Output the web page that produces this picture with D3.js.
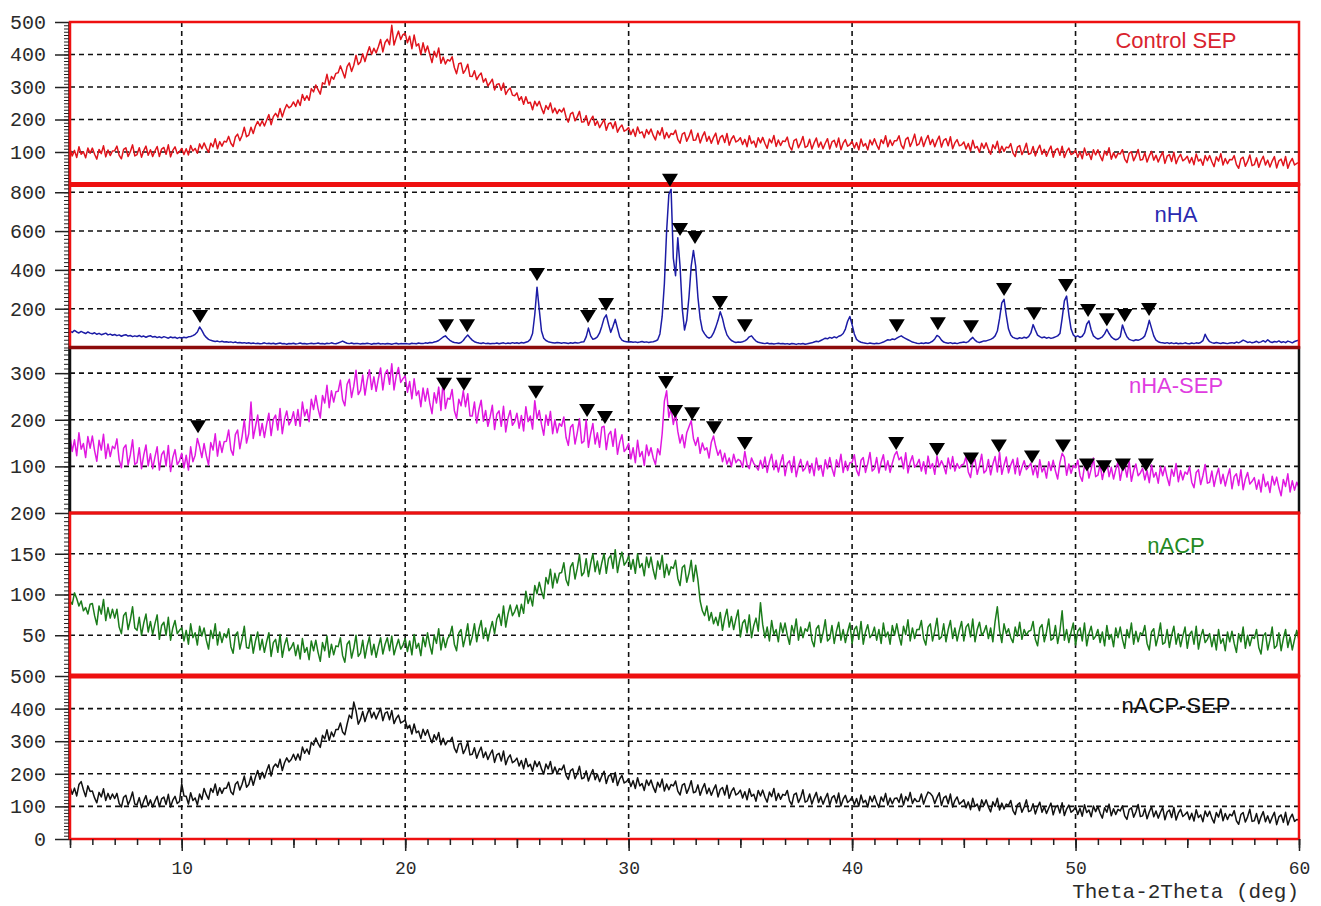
<!DOCTYPE html>
<html>
<head>
<meta charset="utf-8">
<script src="https://cdn.jsdelivr.net/npm/d3@7/dist/d3.min.js"></script>
<style>
  body { margin: 0; background: #fff; }
  svg { display: block; }
</style>
</head>
<body>
<svg id="chart"></svg>
<script>
// 2theta runs from 5 to 60 deg, one value every 0.1 deg (one row = one degree)
const thetaStart = 5, thetaStep = 0.1;

const ctrlSep = [
109,88,105,83,116,93,101,82,112,96,
112,93,78,108,95,119,85,106,89,103,
104,118,90,79,108,113,86,101,122,88,
92,113,84,104,118,90,107,86,103,117,
86,109,114,93,122,85,105,116,95,101,
111,92,110,91,120,103,111,96,125,110,
128,112,99,127,116,141,110,132,118,133,
131,148,127,117,146,155,135,151,176,147,
152,176,157,180,194,180,196,180,198,215,
184,209,219,207,234,208,230,246,236,241,
254,240,260,243,277,259,273,259,295,285,
306,292,278,313,309,339,306,332,324,342,
344,365,347,328,363,374,348,367,398,369,
377,402,378,403,424,401,419,405,424,446,
408,437,447,430,490,429,452,472,446,461,
465,436,456,418,460,426,433,400,436,407,
426,400,375,410,392,420,373,392,371,384,
380,393,360,341,372,374,342,353,370,333,
332,350,323,335,343,315,326,303,313,324,
291,308,310,290,312,277,290,297,275,273,
282,259,270,247,270,250,253,230,256,242,
256,235,218,243,231,251,221,235,218,231,
223,235,207,192,217,222,196,208,225,192,
193,212,182,199,210,182,195,175,187,200,
167,187,190,172,193,161,175,183,164,168,
175,154,170,148,177,158,162,144,169,155,
171,151,137,165,152,175,141,160,144,157,
154,167,139,127,155,160,133,148,168,136,
137,158,128,148,162,133,148,127,145,158,
124,145,151,129,157,121,140,150,131,135,
144,123,139,116,150,126,134,115,144,128,
145,126,111,140,128,151,117,137,120,134,
132,146,117,106,135,140,113,128,148,114,
118,139,109,128,143,115,131,110,127,141,
109,131,136,115,143,107,127,138,118,123,
133,112,129,107,140,118,126,107,137,122,
141,122,108,138,126,150,116,137,120,135,
135,150,121,110,139,145,117,133,155,120,
125,146,117,137,151,123,139,116,135,149,
115,136,141,119,147,110,128,138,119,122,
131,109,126,103,136,112,117,99,127,111,
128,108,93,122,110,133,98,118,102,115,
113,126,97,86,115,120,92,107,127,93,
96,117,88,107,121,93,108,87,104,118,
84,106,111,90,118,83,101,112,92,96,
105,84,101,79,112,90,96,77,107,91,
107,88,73,103,90,113,78,98,82,96,
94,107,78,67,96,101,73,88,108,75,
77,98,69,88,102,75,90,69,86,100,
65,87,92,71,99,64,82,93,73,78,
87,66,83,61,94,72,78,59,89,73,
89,70,55,85,72,95,60,80,64,77,
76,89,61,50,79,84,56,71,91,58,
61,82,53,73,87,60,75,54,72,86,
51,73,78,58,86,50,69,80,60,65,
68];

const nHA = [
84,78,88,80,75,83,77,72,80,74,
71,76,68,73,66,70,74,65,69,63,
67,61,65,58,63,66,59,62,56,60,
57,62,55,59,53,58,61,54,57,51,
55,50,56,52,48,54,50,53,47,52,
49,53,50,55,57,61,68,80,106,88,
66,52,42,37,34,31,33,29,32,28,
30,27,29,25,28,24,26,23,25,22,
24,21,23,20,22,19,21,24,20,22,
19,22,18,21,23,19,20,17,21,19,
22,18,20,23,19,21,18,20,22,19,
20,23,19,21,18,22,20,24,21,19,
23,28,33,27,22,20,23,19,21,20,
18,21,19,22,20,17,21,19,22,18,
20,18,21,19,17,20,22,18,20,19,
21,19,18,22,20,19,23,21,20,24,
22,26,24,28,31,36,45,54,60,48,
37,30,26,24,22,26,36,52,64,50,
38,30,26,23,21,24,20,22,19,21,
20,23,19,22,24,20,23,21,25,22,
24,21,26,23,27,31,42,72,170,311,
195,85,48,36,30,27,25,23,26,24,
22,25,23,21,24,22,26,23,25,28,
30,55,100,60,42,46,55,75,110,150,
168,120,78,110,145,100,55,38,32,30,
28,30,27,29,26,28,31,27,29,26,
28,30,33,40,70,160,330,600,790,815,
460,370,565,420,200,90,140,260,420,500,
420,260,150,90,70,55,48,55,75,105,
140,184,150,100,65,48,36,30,26,28,
27,30,34,42,55,60,45,33,27,24,
22,20,23,19,21,18,20,22,19,21,
18,20,17,21,19,16,20,18,21,17,
19,22,24,28,32,30,36,42,48,45,
52,48,55,50,58,62,72,95,135,160,
118,70,42,32,27,24,22,20,23,21,
19,22,20,24,28,34,40,38,44,41,
48,55,60,52,46,40,34,28,25,22,
20,23,21,24,22,26,32,44,62,55,
38,28,24,22,25,21,23,20,24,26,
28,25,30,42,52,38,29,26,30,34,
34,38,42,48,60,85,150,230,248,165,
95,65,52,48,45,50,47,53,49,56,
75,118,90,64,56,50,54,48,52,47,
50,55,60,72,150,240,265,170,95,65,
55,60,52,58,75,120,137,90,60,50,
44,48,55,70,94,72,55,45,40,44,
55,116,82,55,42,38,35,40,37,42,
48,60,95,140,100,60,38,30,26,24,
22,25,21,24,20,23,19,22,20,24,
21,19,23,20,24,22,26,35,68,45,
30,25,22,26,23,21,24,22,20,23,
25,22,28,24,30,38,33,26,29,24,
27,32,25,29,35,28,40,30,26,31,
28,34,26,30,25,33,29,24,31,35,
38];

const nHASep = [
164,132,157,123,172,137,149,119,164,139,
165,134,111,156,135,169,117,148,121,143,
138,159,114,97,139,146,103,125,157,104,
108,140,95,124,146,101,127,95,120,142,
92,125,133,101,145,89,119,136,104,112,
128,97,124,92,142,110,124,160,142,119,
149,123,103,151,135,170,122,154,130,153,
154,178,136,124,168,178,138,164,200,150,
170,238,160,185,210,166,192,162,190,214,
166,201,210,178,224,170,201,219,189,198,
217,188,222,186,238,208,222,196,244,222,
252,224,204,252,236,274,226,262,238,260,
261,285,243,230,276,287,248,272,306,254,
263,296,253,284,307,265,292,261,288,311,
264,299,307,276,320,264,294,312,280,288,
294,259,282,245,288,252,262,228,268,240,
267,236,213,258,236,270,220,285,224,246,
244,265,220,203,244,230,262,228,256,208,
208,238,193,222,242,197,220,186,206,231,
179,212,219,186,229,174,203,220,188,196,
214,182,209,176,228,196,208,180,241,202,
220,190,167,210,188,218,170,200,172,192,
186,206,162,145,184,190,148,172,202,150,
154,200,141,170,192,148,172,141,184,186,
136,168,175,143,180,126,152,168,132,138,
149,116,140,108,156,121,132,102,146,123,
140,118,104,138,125,170,240,262,205,225,
190,215,175,150,168,140,172,185,198,160,
145,162,128,150,135,140,118,152,165,142,
124,135,110,128,105,118,100,126,108,115,
112,98,132,104,95,118,106,100,92,113,
96,120,87,110,126,93,113,88,108,125,
80,106,112,87,121,78,101,115,90,96,
111,86,106,80,118,92,102,79,114,95,
119,96,79,114,99,126,87,111,91,108,
109,125,92,80,113,119,87,106,130,90,
95,119,86,109,125,92,112,87,107,124,
132,114,120,95,129,86,109,123,98,104,
115,90,110,84,122,96,106,83,122,99,
112,101,84,118,95,121,90,106,96,103,
105,121,88,76,109,115,83,102,126,86,
91,115,82,105,121,88,130,83,103,120,
86,103,115,84,118,81,98,112,93,99,
107,82,102,76,114,88,98,75,110,91,
113,90,73,108,128,120,81,105,85,102,
97,113,80,68,101,107,75,94,118,78,
81,105,72,95,111,78,98,73,93,110,
70,96,102,77,111,68,91,105,80,86,
96,71,91,65,103,77,87,64,99,80,
99,76,59,94,79,106,67,91,71,88,
83,99,66,54,87,93,61,80,104,64,
66,90,57,80,96,63,83,58,78,95,
52,78,84,59,93,50,73,87,62,68,
76,51,71,45,83,57,67,44,79,60,
77,54,37,72,57,84,45,69,49,66,
55];

const nACP = [
92,88,102,95,86,92,80,84,76,88,
89,74,63,86,76,94,68,84,71,82,
71,82,60,52,74,78,57,69,85,59,
56,72,50,65,76,54,67,51,64,75,
45,62,66,50,72,44,59,68,52,56,
59,43,56,39,64,47,53,38,61,49,
59,44,33,56,46,64,38,54,41,52,
47,58,36,28,50,54,33,45,61,35,
34,50,28,43,54,32,45,29,42,53,
24,41,45,29,51,23,38,47,31,35,
41,25,38,21,46,29,35,20,43,31,
44,29,18,41,31,49,23,39,26,37,
36,47,25,17,39,43,22,34,50,24,
28,44,22,37,48,26,39,23,36,47,
27,39,47,31,49,26,36,45,33,38,
46,30,43,26,51,34,40,25,48,36,
53,38,27,50,40,58,32,48,35,46,
50,61,39,31,53,57,36,48,64,38,
48,64,42,57,68,46,59,43,56,67,
52,70,76,62,86,60,76,87,74,79,
87,73,88,77,104,89,98,86,111,101,
115,104,95,121,113,131,108,126,114,126,
127,139,118,111,134,139,119,132,149,123,
127,144,122,138,150,128,141,125,139,150,
126,144,148,132,155,127,142,152,136,140,
147,131,143,126,150,133,138,123,146,133,
146,130,119,141,131,148,121,137,124,134,
132,142,120,111,133,136,115,126,142,116,
136,118,92,80,74,86,68,78,64,72,
62,78,56,71,82,60,73,57,70,81,
48,65,69,53,75,47,62,71,55,90,
63,47,60,43,68,51,57,42,65,53,
65,50,39,62,52,70,44,60,47,58,
55,66,44,36,58,62,41,53,69,43,
46,62,40,55,66,44,57,41,54,65,
40,57,61,45,67,39,54,63,47,51,
60,44,57,40,65,48,54,39,62,50,
64,49,38,61,51,69,43,59,46,57,
57,68,46,38,60,64,43,55,71,45,
48,64,42,57,68,46,59,43,56,67,
43,60,64,48,70,42,57,66,50,54,
62,46,59,42,67,85,56,41,64,52,
58,47,41,60,49,66,45,57,50,55,
56,67,45,37,59,63,42,54,70,44,
46,62,40,55,80,44,57,41,54,65,
38,55,59,43,65,37,52,61,45,49,
57,41,54,37,62,45,51,36,59,47,
60,45,34,57,47,65,39,55,42,53,
51,62,40,32,54,58,37,49,65,39,
41,57,35,50,61,39,52,36,49,60,
34,51,55,39,61,33,48,57,41,45,
52,36,49,32,57,40,46,31,54,42,
55,40,29,52,42,60,34,50,37,48,
46,57,35,27,49,53,32,44,60,34,
37,53,31,46,57,35,48,32,45,56,
44];

const nACPSep = [
160,137,156,132,167,176,151,130,163,146,
147,126,111,143,129,154,118,140,122,138,
124,140,109,98,128,134,105,121,144,107,
105,127,96,117,133,102,120,98,116,131,
99,123,129,106,137,98,119,131,109,115,
170,132,131,107,142,118,126,105,138,121,
155,136,122,155,143,169,134,157,140,156,
156,174,145,136,168,176,150,168,193,159,
167,193,165,190,210,183,205,187,209,228,
193,221,230,220,245,210,234,249,236,244,
260,242,261,242,282,263,276,260,297,288,
310,293,281,318,307,335,302,328,314,336,
336,356,328,320,352,380,370,420,393,352,
367,391,360,383,400,372,389,368,385,401,
363,386,390,366,394,354,370,380,356,360,
365,339,349,322,353,326,331,308,337,318,
335,312,295,320,304,327,289,309,289,301,
299,312,279,265,291,294,262,276,297,258,
260,280,248,267,282,250,267,244,260,273,
235,258,263,239,270,228,248,258,234,239,
248,224,241,215,247,222,229,208,239,222,
237,215,199,230,215,238,201,221,201,216,
212,227,195,183,210,215,185,200,223,185,
188,209,178,198,213,182,199,176,193,208,
170,193,198,174,204,164,184,195,172,176,
185,161,179,155,188,163,170,149,181,164,
181,159,143,174,159,184,147,169,151,167,
163,178,147,135,165,170,140,156,179,142,
145,166,134,155,170,139,156,134,152,166,
129,152,158,135,165,125,146,157,135,140,
150,126,145,120,154,131,137,116,149,132,
150,128,113,144,130,155,118,140,122,137,
134,149,117,105,136,141,112,127,151,113,
117,138,107,127,143,112,130,107,125,140,
104,127,133,110,141,101,122,134,112,118,
128,105,124,100,135,111,119,98,131,114,
133,112,97,129,115,140,104,126,108,124,
126,112,138,104,130,117,143,109,124,115,
116,138,107,128,144,140,131,109,127,142,
103,126,132,108,138,98,118,129,107,113,
120,96,114,90,125,100,107,87,120,103,
120,98,83,114,100,125,89,110,92,107,
103,118,87,75,105,111,82,98,120,84,
87,108,77,97,113,82,99,78,95,110,
74,97,103,80,111,72,92,104,82,88,
98,75,94,70,105,81,89,68,101,84,
100,79,64,96,82,107,71,93,75,91,
86,102,71,60,90,96,67,83,106,69,
71,93,62,83,99,68,86,64,82,97,
59,83,89,66,97,58,79,91,69,75,
83,60,79,55,90,66,74,53,86,69,
85,64,49,81,67,92,56,78,60,76,
71,87,56,45,75,81,52,68,91,54,
56,78,47,68,84,53,71,49,67,82,
44,68,74,51,82,43,64,76,54,60,
58];

// peak markers: [2theta, intensity at the tip of the triangle]
const nHAPeaks = [[10.82,126],[21.83,79],[22.77,79],[25.9,343],[28.18,126],[28.99,188],
  [31.85,828],[32.3,575],[32.97,534],[34.09,198],[35.2,79],[42.0,79],[43.84,89],[45.32,74],
  [46.8,265],[48.14,141],[49.57,286],[50.56,157],[51.4,110],[52.2,131],[53.29,162]];
const nHASepPeaks = [[10.73,171],[21.74,262],[22.63,262],[25.85,245],[28.14,206],[28.94,191],
  [31.67,266],[32.08,204],[32.84,199],[33.82,169],[35.2,135],[41.97,135],[43.8,122],[45.32,102],
  [46.57,130],[48.05,106],[49.44,130],[50.51,89],[51.27,85],[52.12,89],[53.15,89]];

const sampleNames = ["Control SEP", "nHA", "nHA-SEP", "nACP", "nACP-SEP"];
const yMax = [500, 840, 355, 200, 500];
const yTicks = [[100,200,300,400,500],[200,400,600,800],[100,200,300],[50,100,150,200],[0,100,200,300,400,500]];
const yMinorStep = [10, 20, 10, 5, 10];
const xTicks = [5,10,15,20,25,30,35,40,45,50,55,60];
const xLabels = [10,20,30,40,50,60];
const xTitle = "Theta-2Theta (deg)";

const series = [ctrlSep, nHA, nHASep, nACP, nACPSep];
const peaks = [null, nHAPeaks, nHASepPeaks, null, null];

// styles
const lineColors = ["#e0141c", "#1c1ca6", "#e018e0", "#1b7c1b", "#111111"];
const labelColors = ["#d9232e", "#2a2ab0", "#e03ce0", "#248a24", "#111111"];
const labelY = [48, 222, 393, 553, 713];
const borderColors = ["#ee1010", "#ee1010", "#111111", "#ee1010", "#ee1010"];

const W = 1321, H = 906;
const left = 70, right = 1299;
const edges = [22, 184.5, 347.5, 513, 676, 839];
const monoFont = "'Liberation Mono', 'DejaVu Sans Mono', monospace";

const svg = d3.select("#chart").attr("width", W).attr("height", H)
  .style("font-family", monoFont);

const x = d3.scaleLinear().domain([5, 60]).range([left, right]);

// vertical dashed grid through all panels
svg.append("g").selectAll("line")
  .data(xLabels.filter(d => d < 60))
  .join("line")
    .attr("x1", d => x(d)).attr("x2", d => x(d))
    .attr("y1", edges[0]).attr("y2", edges[5])
    .attr("stroke", "#111").attr("stroke-width", 1.6)
    .attr("stroke-dasharray", "5,4");

// left axis spine
svg.append("line")
  .attr("x1", left - 1).attr("x2", left - 1)
  .attr("y1", edges[0]).attr("y2", edges[5])
  .attr("stroke", "#111").attr("stroke-width", 1.5);

const line = d3.line()
  .x((d, i) => x(thetaStart + i * thetaStep));

const panels = series.map((vals, k) => {
  const top = edges[k], bottom = edges[k + 1];
  const y = d3.scaleLinear().domain([0, yMax[k]]).range([bottom, top]);
  const g = svg.append("g");

  // horizontal dashed grid
  g.selectAll("line.grid")
    .data(yTicks[k].filter(t => t > 0 && t < yMax[k]))
    .join("line")
      .attr("class", "grid")
      .attr("x1", left).attr("x2", right)
      .attr("y1", d => y(d)).attr("y2", d => y(d))
      .attr("stroke", "#111").attr("stroke-width", 1.6)
      .attr("stroke-dasharray", "5,4");

  // minor + major ticks
  const minor = d3.range(0, yMax[k] + 0.001, yMinorStep[k]);
  g.append("g")
    .attr("transform", `translate(${left - 1},0)`)
    .call(d3.axisLeft(y).tickValues(minor).tickSize(5).tickFormat(""))
    .call(a => a.select(".domain").remove())
    .call(a => a.selectAll("line").attr("stroke", "#222"));
  g.append("g")
    .attr("transform", `translate(${left - 1},0)`)
    .call(d3.axisLeft(y).tickValues(yTicks[k]).tickSize(14).tickPadding(9))
    .call(a => a.select(".domain").remove())
    .call(a => a.selectAll("line").attr("stroke", "#222").attr("stroke-width", 1.5))
    .call(a => a.selectAll("text")
      .attr("font-family", monoFont).attr("font-size", 20).attr("fill", "#2a2a2a"));

  // pattern
  g.append("path")
    .datum(vals)
    .attr("d", line.y(d => y(d)))
    .attr("fill", "none")
    .attr("stroke", lineColors[k])
    .attr("stroke-width", 1.5)
    .attr("stroke-linejoin", "round");

  return { y, top, bottom };
});

// panel frames
[2, 0, 1, 3, 4].forEach(k => {
  svg.append("rect")
    .attr("x", left).attr("y", edges[k])
    .attr("width", right - left).attr("height", edges[k + 1] - edges[k])
    .attr("fill", "none")
    .attr("stroke", borderColors[k])
    .attr("stroke-width", 2.5);
});
// joins between panels
const joins = [[edges[1], 5, "#ee1010"], [edges[2], 3.5, "#8c0b0b"], [edges[3], 3, "#ee1010"], [edges[4], 5, "#ee1010"]];
svg.append("g").selectAll("line")
  .data(joins)
  .join("line")
    .attr("x1", left - 1).attr("x2", right + 1)
    .attr("y1", d => d[0]).attr("y2", d => d[0])
    .attr("stroke", d => d[2]).attr("stroke-width", d => d[1]);

// peak triangles
panels.forEach((p, k) => {
  if (!peaks[k]) return;
  svg.append("g").selectAll("path")
    .data(peaks[k])
    .join("path")
      .attr("transform", d => `translate(${x(d[0])},${p.y(d[1])})`)
      .attr("d", "M-8,-13L8,-13L0,0Z")
      .attr("fill", "#000");
});

// sample labels
svg.append("g").selectAll("text")
  .data(sampleNames)
  .join("text")
    .attr("x", 1176)
    .attr("y", (d, i) => labelY[i])
    .attr("text-anchor", "middle")
    .attr("font-family", "'Liberation Sans', Arial, sans-serif")
    .attr("font-size", 22)
    .attr("fill", (d, i) => labelColors[i])
    .text(d => d);

// x axis
const xAxisG = svg.append("g").attr("transform", `translate(0,${edges[5]})`);
xAxisG.append("g")
  .call(d3.axisBottom(x).tickValues(d3.range(5, 60.001, 1)).tickSize(6).tickFormat(""))
  .call(a => a.select(".domain").remove());
xAxisG.append("g")
  .call(d3.axisBottom(x).tickValues(xTicks).tickSize(9).tickFormat(""))
  .call(a => a.select(".domain").remove());
xAxisG.append("g")
  .call(d3.axisBottom(x).tickValues(xLabels).tickSize(12).tickPadding(10))
  .call(a => a.select(".domain").remove())
  .call(a => a.selectAll("text")
    .attr("font-family", monoFont).attr("font-size", 18).attr("fill", "#2a2a2a"));
xAxisG.selectAll("line").attr("stroke", "#222").attr("stroke-width", 1.5);

svg.append("text")
  .attr("x", right).attr("y", 898)
  .attr("text-anchor", "end")
  .attr("font-family", monoFont)
  .attr("font-size", 21)
  .attr("fill", "#2a2a2a")
  .text(xTitle);
</script>
</body>
</html>
